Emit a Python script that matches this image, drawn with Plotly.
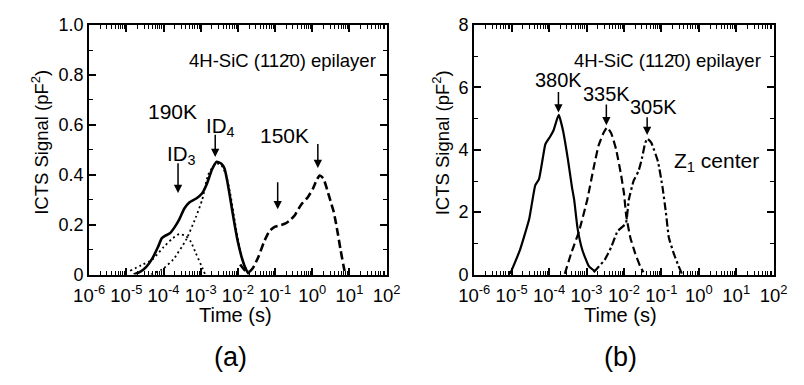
import numpy as np
import plotly.graph_objects as go

# ---------------- data (time given as log10 of seconds) ----------------
# Panel (a): 190K solid, ID3/ID4 dotted components, 150K dashed
a190_logt = [-4.80, -4.62, -4.47, -4.30, -4.15, -4.05, -3.96, -3.83, -3.70, -3.58, -3.44,
             -3.30, -3.12, -2.96, -2.83, -2.70, -2.57, -2.45, -2.36, -2.28, -2.20, -2.10,
             -2.00, -1.88, -1.78, -1.70]
a190_sig = [0.0, 0.012, 0.03, 0.065, 0.11, 0.145, 0.155, 0.165, 0.19, 0.22, 0.265,
            0.29, 0.305, 0.326, 0.365, 0.42, 0.452, 0.445, 0.425, 0.37, 0.30, 0.21,
            0.13, 0.06, 0.02, 0.0]

aID3_logt = [-4.90, -4.60, -4.30, -4.00, -3.78, -3.58, -3.40, -3.26, -3.13, -2.96, -2.88]
aID3_sig = [0.015, 0.037, 0.06, 0.11, 0.142, 0.162, 0.155, 0.13, 0.085, 0.028, 0.0]

aID4_logt = [-4.34, -4.04, -3.74, -3.39, -3.13, -2.96, -2.80, -2.60, -2.45, -2.32, -2.20,
             -2.08, -1.96, -1.85, -1.75]
aID4_sig = [0.0, 0.02, 0.06, 0.14, 0.23, 0.30, 0.40, 0.446, 0.44, 0.40, 0.32,
            0.21, 0.11, 0.045, 0.01]

a150_logt = [-1.94, -1.80, -1.71, -1.60, -1.45, -1.30, -1.15, -1.00, -0.85, -0.72, -0.58,
             -0.46, -0.30, -0.12, 0.02, 0.12, 0.20, 0.30, 0.40, 0.50, 0.58, 0.68,
             0.76, 0.84, 0.89]
a150_sig = [0.04, 0.015, 0.01, 0.025, 0.07, 0.13, 0.175, 0.192, 0.198, 0.205, 0.22,
            0.24, 0.28, 0.31, 0.345, 0.38, 0.397, 0.385, 0.34, 0.29, 0.25, 0.17,
            0.10, 0.035, 0.0]

# Panel (b): 380K solid, 335K dashed, 305K dash-dot
b380_logt = [-5.04, -4.78, -4.53, -4.37, -4.27, -4.17, -4.10, -3.97, -3.88, -3.80, -3.74,
             -3.63, -3.50, -3.39, -3.33, -3.24, -3.11, -2.94, -2.77]
b380_sig = [0.02, 0.78, 1.79, 2.86, 3.06, 3.72, 4.18, 4.43, 4.63, 4.94, 5.12,
            4.63, 3.72, 2.81, 2.40, 1.49, 0.78, 0.27, 0.10]

b335_logt = [-3.58, -3.41, -3.20, -2.98, -2.81, -2.68, -2.55, -2.45, -2.34, -2.21, -2.08,
             -2.00, -1.94, -1.83, -1.70, -1.57, -1.48]
b335_sig = [0.02, 0.68, 1.39, 2.40, 3.42, 4.13, 4.53, 4.72, 4.53, 4.02, 3.22,
            2.61, 1.90, 1.19, 0.68, 0.27, 0.07]

b305_logt = [-2.81, -2.51, -2.34, -2.17, -1.95, -1.87, -1.74, -1.61, -1.52, -1.44, -1.38,
             -1.27, -1.09, -0.97, -0.88, -0.80, -0.67, -0.54, -0.45]
b305_sig = [0.07, 0.48, 0.88, 1.39, 1.64, 2.40, 3.01, 3.32, 3.72, 4.18, 4.36,
            4.23, 3.62, 2.81, 2.0, 1.19, 0.68, 0.27, 0.02]

decades = [-6, -5, -4, -3, -2, -1, 0, 1, 2]
x_tick_vals = [10.0 ** d for d in decades]
x_tick_text = ["10<sup>%d</sup>" % d for d in decades]
x_minor_vals = [m * 10.0 ** d for d in decades[:-1] for m in range(2, 10)]

ya_tick_vals = [0, 0.2, 0.4, 0.6, 0.8, 1.0]
ya_tick_text = ["0", "0.2", "0.4", "0.6", "0.8", "1.0"]
ya_minor_vals = [0.1, 0.3, 0.5, 0.7, 0.9]
yb_tick_vals = [0, 2, 4, 6, 8]
yb_tick_text = ["0", "2", "4", "6", "8"]
yb_minor_vals = [1, 3, 5, 7]

# ---------------- figure ----------------
FONT = "Liberation Sans, Arial, Helvetica, sans-serif"
W, H = 804, 385
fig = go.Figure()

DASH = "8px,4px"
DOT = "2px,3px"
DASHDOT = "8px,3px,2.5px,3px"

def tr(logt, sig, dash, xa, ya, width=2.6, smooth=0.5):
    fig.add_trace(go.Scatter(x=10.0 ** np.array(logt), y=sig, mode="lines",
                             line=dict(color="black", width=width, dash=dash,
                                       shape="spline", smoothing=smooth),
                             xaxis=xa, yaxis=ya, showlegend=False, hoverinfo="skip"))

tr(aID3_logt, aID3_sig, DOT, "x", "y", 1.8)
tr(aID4_logt, aID4_sig, DOT, "x", "y", 1.8)
tr(a190_logt, a190_sig, "solid", "x", "y", 2.6)
tr(a150_logt, a150_sig, DASH, "x", "y", 2.6)
tr(b380_logt, b380_sig, "solid", "x2", "y2", 2.2, 0.4)
tr(b335_logt, b335_sig, DASH, "x2", "y2", 2.2, 0.4)
tr(b305_logt, b305_sig, DASHDOT, "x2", "y2", 2.2, 0.4)

xdomA = [76 / W, 385 / W]
xdomB = [476 / W, 787 / W]
ydom = [1 - 279 / H, 1 - 16 / H]

def xax(dom, anchor):
    return dict(type="log", range=[-6, 2], domain=dom, anchor=anchor,
                tickmode="array", tickvals=x_tick_vals, ticktext=x_tick_text,
                ticks="inside", ticklen=7, tickwidth=1.5, tickcolor="black",
                ticklabelstandoff=3,
                minor=dict(tickmode="array", tickvals=x_minor_vals, ticks="inside",
                           ticklen=3.5, tickwidth=1.2, tickcolor="black", showgrid=False),
                showline=True, linecolor="black", linewidth=2, mirror="ticks",
                showgrid=False, zeroline=False,
                tickfont=dict(family=FONT, size=18.5, color="black"))

def yax(dom, anchor, rng, tv, tt, mv):
    return dict(range=rng, domain=dom, anchor=anchor,
                tickmode="array", tickvals=tv, ticktext=tt,
                ticks="inside", ticklen=7, tickwidth=1.5, tickcolor="black",
                minor=dict(tickmode="array", tickvals=mv, ticks="inside",
                           ticklen=4, tickwidth=1.2, tickcolor="black", showgrid=False),
                showline=True, linecolor="black", linewidth=2, mirror="ticks",
                showgrid=False, zeroline=False,
                tickfont=dict(family=FONT, size=18, color="black"))

fig.update_layout(
    width=W, height=H, margin=dict(l=0, r=0, t=0, b=0),
    paper_bgcolor="white", plot_bgcolor="white",
    font=dict(family=FONT, color="black"),
    xaxis=xax(xdomA, "y"), yaxis=yax(ydom, "x", [0, 1], ya_tick_vals, ya_tick_text, ya_minor_vals),
    xaxis2=xax(xdomB, "y2"), yaxis2=yax(ydom, "x2", [0, 8], yb_tick_vals, yb_tick_text, yb_minor_vals),
)

anns = []

def txt(x, y, s, xr, yr, size=19, xanchor="center"):
    anns.append(dict(x=x, y=y, xref=xr, yref=yr, text=s, showarrow=False,
                     xanchor=xanchor, yanchor="middle",
                     font=dict(family=FONT, size=size, color="black")))

def arrow(lx, y0, y1, xr, yr):
    anns.append(dict(x=lx, y=y1, ax=lx, ay=y0, xref=xr, yref=yr, axref=xr, ayref=yr,
                     text="", showarrow=True, arrowhead=2, arrowsize=1.1,
                     arrowwidth=1.5, arrowcolor="black"))

# panel (a)
txt(1.77, 0.859, "4H-SiC (112\u03040) epilayer", "x", "y", 18.5, "right")
txt(-3.76, 0.652, "190K", "x", "y", 21)
txt(-3.51, 0.48, "ID<sub>3</sub>", "x", "y", 20.5)
txt(-2.47, 0.59, "ID<sub>4</sub>", "x", "y", 20.5)
txt(-0.74, 0.557, "150K", "x", "y", 21)
arrow(-3.61, 0.452, 0.327, "x", "y")
arrow(-2.61, 0.567, 0.471, "x", "y")
arrow(0.15, 0.529, 0.427, "x", "y")
arrow(-0.93, 0.376, 0.262, "x", "y")

# panel (b)
txt(1.72, 6.87, "4H-SiC (112\u03040) epilayer", "x2", "y2", 18.5, "right")
txt(-3.75, 6.24, "380K", "x2", "y2", 20)
txt(-2.47, 5.79, "335K", "x2", "y2", 20)
txt(-1.22, 5.37, "305K", "x2", "y2", 20)
txt(0.47, 3.6, "Z<sub>1</sub> center", "x2", "y2", 21)
arrow(-3.75, 5.90, 5.20, "x2", "y2")
arrow(-2.47, 5.50, 4.79, "x2", "y2")
arrow(-1.38, 5.09, 4.48, "x2", "y2")

# axis titles and panel labels (paper coordinates)
def ptxt(px, py, s, size, angle=0):
    anns.append(dict(x=px / W, y=1 - py / H, xref="paper", yref="paper", text=s,
                     showarrow=False, xanchor="center", yanchor="middle", textangle=angle,
                     font=dict(family=FONT, size=size, color="black")))

ptxt(228, 322, "Time (s)", 20)
ptxt(628, 322, "Time (s)", 20)
ptxt(25, 140, "ICTS Signal (pF<sup>2</sup>)", 18.5, -90)
ptxt(441, 140, "ICTS Signal (pF<sup>2</sup>)", 18.5, -90)
ptxt(223, 366, "(a)", 27)
ptxt(628, 366, "(b)", 27)

fig.update_layout(annotations=anns)
fig.write_html("out.html")
